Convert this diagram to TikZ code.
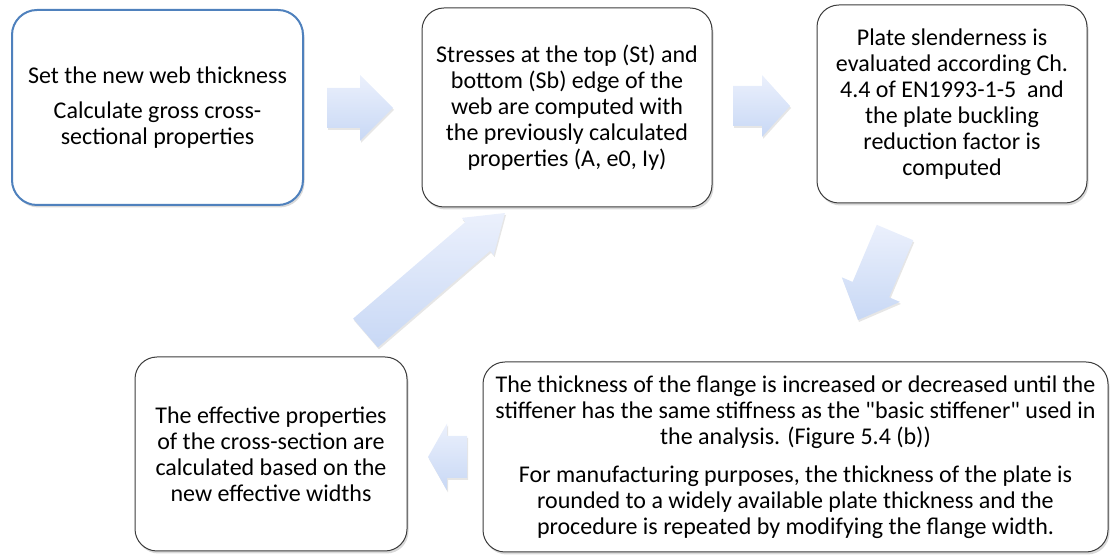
\documentclass[tikz,border=0pt]{standalone}
\usepackage{fontspec}
\setmainfont{Carlito}[Ligatures=TeXOff]
\usepackage{tikz}
\usetikzlibrary{calc,shadows}
\definecolor{bordeA}{HTML}{4F81BD}
\definecolor{bordeB}{HTML}{3C3C3C}
\definecolor{tinta}{HTML}{000000}
\definecolor{flechaA}{HTML}{EBF0FC}
\definecolor{flechaB}{HTML}{C8D8F5}

\newcommand{\flechabloque}[5]{%
  \path ($(#2)!#5!(#1)$) coordinate (base);
  \path[flecha] ($(#1)!#3!90:(#2)$) -- ($(base)!#3!90:(#2)$) -- ($(base)!#4!90:(#2)$) -- (#2)
    -- ($(base)!#4!-90:(#2)$) -- ($(base)!#3!-90:(#2)$) -- ($(#1)!#3!-90:(#2)$) -- cycle;}

\begin{document}
\begin{tikzpicture}[x=1pt, y=1pt,
  caja/.style={rectangle, rounded corners=22pt, draw=bordeB, line width=1pt, fill=white,
    align=center, text=tinta, font=\fontsize{24}{26}\selectfont, inner sep=0pt,
    drop shadow={shadow xshift=1.5pt, shadow yshift=-2.5pt, opacity=0.3}},
  cajaazul/.style={caja, draw=bordeA, line width=2pt, rounded corners=25pt},
  flecha/.style={top color=flechaA, bottom color=flechaB,
    drop shadow={shadow xshift=1pt, shadow yshift=-2pt, opacity=0.2}}]
  \useasboundingbox (0,0) rectangle (1113,556);
  \node[cajaazul, minimum width=291, minimum height=195] (grueso) at (157.5,448.5)
    {Set the new web thickness\\[9pt]Calculate gross cross-\\sectional properties};
  \node[caja, minimum width=290, minimum height=199] (tension) at (567,448.5)
    {Stresses at the top (St) and\\bottom (Sb) edge of the\\web are computed with\\the previously calculated\\properties (A, e0, Iy)};
  \node[caja, minimum width=270, minimum height=198] (esbeltez) at (952,452)
    {Plate slenderness is\\evaluated according Ch.\\4.4 of EN1993-1-5~ and\\the plate buckling\\reduction factor is\\computed};
  \node[caja, minimum width=625, minimum height=190] (ala) at (795.5,99)
    {The thickness of the flange is increased or decreased until the\\stiffener has the same stiffness as the "basic stiffener" used in\\the analysis. (Figure 5.4 (b))\\[12pt]For manufacturing purposes, the thickness of the plate is\\rounded to a widely available plate thickness and the\\procedure is repeated by modifying the flange width.};
  \node[caja, minimum width=272, minimum height=194] (eficaz) at (271,102)
    {The effective properties\\of the cross-section are\\calculated based on the\\new effective widths};
  \coordinate (c1a) at (327,448);   \coordinate (c1b) at (393,448);
  \coordinate (c2a) at (733,450);   \coordinate (c2b) at (790,450);
  \coordinate (c3a) at (895,323.5); \coordinate (c3b) at (858,236);
  \coordinate (c4a) at (467,99);    \coordinate (c4b) at (428,99);
  \coordinate (c5a) at (365.5,223); \coordinate (c5b) at (505,343);
  \flechabloque{c1a}{c1b}{20pt}{33pt}{33pt}
  \flechabloque{c2a}{c2b}{20pt}{31pt}{28pt}
  \flechabloque{c3a}{c3b}{19.8pt}{31.6pt}{33pt}
  \flechabloque{c4a}{c4b}{21pt}{33.5pt}{19pt}
  \flechabloque{c5a}{c5b}{19pt}{24.5pt}{36pt}
\end{tikzpicture}
\end{document}
